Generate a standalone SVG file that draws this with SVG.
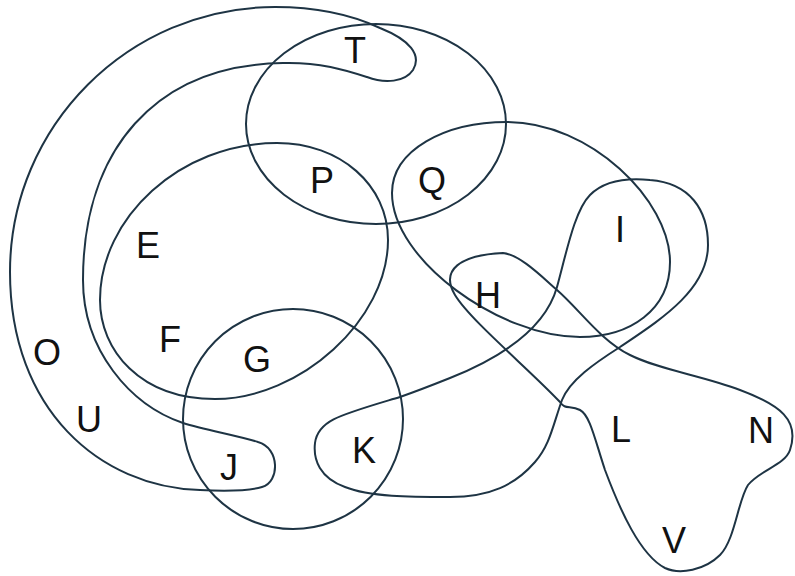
<svg xmlns="http://www.w3.org/2000/svg" width="795" height="576" viewBox="0 0 795 576">
<style>
.c{fill:none;stroke:#1e3444;stroke-width:2}
.t{font-family:"Liberation Sans",Arial,sans-serif;font-size:36px;fill:#111;text-anchor:middle}
</style>
<rect width="795" height="576" fill="#fff"/>
<g id="curve-OUJT">
<path class="c" d="M283,63 C320,62 345,70 367,77 C385,84 405,82 413,70 C422,55 410,40 380,28 C350,14 315,7 275,7 C129,7 10,126 10,272 C10,410 100,487 200,490 C220,491 245,492 262,487 C280,482 280,448 258,442 C235,435 205,430 183,423 C130,405 83,350 83,280 C83,150 155,65 283,63 Z"/>
</g>
<g id="curve-TPQ">
<ellipse class="c" cx="376" cy="124" rx="130" ry="100"/>
</g>
<g id="curve-EFGP">
<path class="c" d="M277,143 C340,143 388,185 388,240 C388,320 300,399 215,399 C140,399 100,350 100,300 C100,218 180,143 277,143 Z"/>
</g>
<g id="curve-GJK">
<circle class="c" cx="293" cy="419" r="110"/>
</g>
<g id="curve-QHI">
<path class="c" d="M507,122 C590,122 670,200 670,262 C670,310 630,337 580,337 C500,337 392,260 392,193 C392,150 445,122 507,122 Z"/>
</g>
<g id="curve-IK">
<path class="c" d="M450,378 C500,358 545,330 557,287 C567,250 575,210 590,195 C605,180 630,178 650,180 C690,183 708,210 708,245 C708,290 660,320 620,347 C595,363 570,380 562,400 C553,425 550,445 535,462 C515,485 490,497 450,497 C410,497 370,497 345,487 C320,478 313,460 315,443 C318,420 340,415 400,397 C420,390 440,382 450,378 Z"/>
</g>
<g id="curve-HLNV">
<path class="c" d="M503,253 C520,255 540,275 557,290 C580,310 600,340 630,355 C660,370 700,375 740,390 C780,405 800,420 790,450 C785,465 760,470 748,485 C738,500 735,540 720,555 C705,570 680,575 665,568 C640,555 620,510 605,470 C595,440 590,415 580,410 C570,405 565,410 560,402 C530,370 470,320 455,295 C440,270 460,255 503,253 Z"/>
</g>
<g id="labels">
<text class="t" x="355" y="63">T</text>
<text class="t" x="322" y="193">P</text>
<text class="t" x="432" y="193">Q</text>
<text class="t" x="148" y="258">E</text>
<text class="t" x="170" y="352">F</text>
<text class="t" x="257" y="372">G</text>
<text class="t" x="47" y="365">O</text>
<text class="t" x="89" y="432">U</text>
<text class="t" x="229" y="480">J</text>
<text class="t" x="364" y="463">K</text>
<text class="t" x="488" y="308">H</text>
<text class="t" x="620" y="242">I</text>
<text class="t" x="621" y="442">L</text>
<text class="t" x="761" y="443">N</text>
<text class="t" x="674" y="553">V</text>
</g>
</svg>
